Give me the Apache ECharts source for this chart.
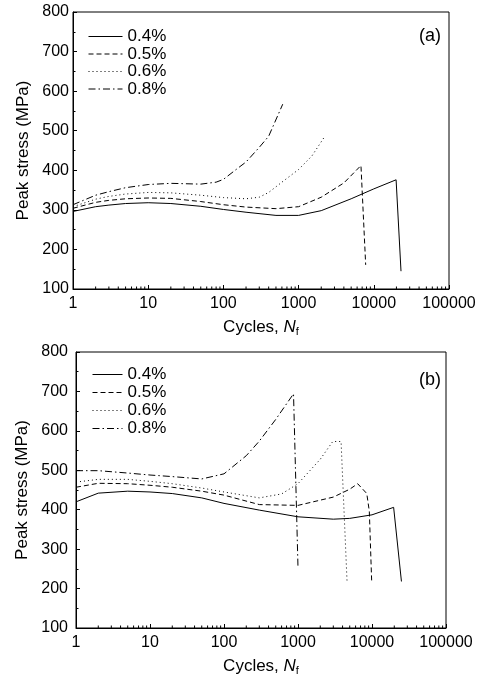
<!DOCTYPE html>
<html>
<head>
<meta charset="utf-8">
<script src="https://cdn.jsdelivr.net/npm/echarts@6/dist/echarts.min.js"></script>
<style>
  html, body { margin: 0; padding: 0; background: #fff; }
  #chart { width: 481px; height: 677px; }
</style>
</head>
<body>
<div id="chart"></div>
<script>
// strain amplitudes (legend)
const strainNames = ['0.4%', '0.5%', '0.6%', '0.8%'];

// panel (a)
const aCycles04 = [1, 2, 3, 5, 10, 20, 50, 100, 200, 500, 1000, 2000, 5000, 10000, 19800, 23000];
const aStress04 = [296, 308, 312, 316, 318, 316, 309, 301, 294, 286, 286, 298, 328, 353, 376, 145];
const aCycles05 = [1, 2, 3, 5, 10, 20, 50, 100, 200, 500, 1000, 2000, 4000, 6750, 7800];
const aStress05 = [304, 319, 324, 328, 330, 329, 321, 313, 307, 303, 308, 332, 368, 412, 161];
const aCycles06 = [1, 2, 3, 5, 10, 20, 50, 100, 200, 300, 400, 600, 1000, 1500, 2200];
const aStress06 = [308, 327, 334, 340, 344, 343, 337, 331, 328, 332, 344, 370, 402, 436, 484];
const aCycles08 = [1, 2, 3, 5, 10, 20, 50, 80, 100, 150, 200, 300, 400, 615];
const aStress08 = [313, 337, 346, 356, 364, 367, 365, 370, 377, 403, 421, 458, 486, 567];

// panel (b)
const bCycles04 = [1, 2, 5, 10, 20, 50, 100, 300, 1000, 3000, 5000, 10000, 19600, 25000];
const bStress04 = [420, 442, 447, 445, 441, 430, 416, 399, 382, 376, 378, 387, 406, 218];
const bCycles05 = [1, 2, 5, 10, 20, 50, 100, 300, 1000, 3000, 5000, 6400, 8500, 9200, 9900];
const bStress05 = [457, 467, 466, 462, 457, 447, 437, 413, 411, 432, 452, 466, 441, 396, 218];
const bCycles06 = [1, 2, 5, 10, 20, 50, 100, 300, 600, 1000, 2000, 2950, 3820, 4600];
const bStress06 = [470, 477, 477, 472, 466, 455, 445, 430, 440, 466, 528, 573, 573, 218];
const bCycles08 = [1, 2, 5, 10, 20, 50, 100, 200, 300, 500, 870, 1000];
const bStress08 = [499, 499, 493, 488, 484, 478, 491, 537, 574, 629, 694, 253];

// log minor tick positions (2..9 of each decade)
const minorTickValues = [];
[1, 10, 100, 1000, 10000].forEach(d => {
    for (let k = 2; k <= 9; k++) minorTickValues.push(d * k);
});

const FONT = '"Liberation Sans", Arial, sans-serif';
const dashTypes = ['solid', [5, 3], [1, 3], [7, 3, 1.5, 3]];

const zip = (xs, ys) => xs.map((x, i) => [x, ys[i]]);

const chart = echarts.init(document.getElementById('chart'));

const makeX = (idx) => ({
    type: 'log',
    logBase: 10,
    gridIndex: idx,
    min: 1,
    max: 100000,
    name: '{t|Cycles, }{i|N}{s|f}',
    nameLocation: 'middle',
    nameGap: 29,
    nameTextStyle: {
        rich: {
            t: { fontSize: 17, fontFamily: FONT, color: '#000' },
            i: { fontSize: 17, fontFamily: FONT, fontStyle: 'italic', color: '#000' },
            s: { fontSize: 11, fontFamily: FONT, color: '#000', padding: [8, 0, 0, 0] }
        }
    },
    axisLine: { lineStyle: { color: '#000', width: 1 } },
    axisTick: { inside: true, length: 4, lineStyle: { color: '#000' } },
    axisLabel: {
        color: '#000', fontSize: 16, fontFamily: FONT, margin: 7,
        formatter: v => String(Math.round(v))
    },
    splitLine: { show: false }
});

const makeY = (idx) => ({
    type: 'value',
    gridIndex: idx,
    min: 100,
    max: 800,
    interval: 100,
    name: 'Peak stress (MPa)',
    nameLocation: 'middle',
    nameGap: idx === 0 ? 41 : 44,
    nameTextStyle: { fontSize: 17, fontFamily: FONT, color: '#000' },
    axisLine: { show: true, lineStyle: { color: '#000', width: 1 } },
    axisTick: { inside: true, length: 4, lineStyle: { color: '#000' } },
    minorTick: { show: true, splitNumber: 2, length: 2.5, lineStyle: { color: '#000' } },
    axisLabel: { color: '#000', fontSize: 16, fontFamily: FONT, margin: idx === 0 ? 4 : 8 },
    splitLine: { show: false }
});

const lineSeries = (idx, xs, ys, k) => ({
    name: strainNames[k],
    type: 'line',
    xAxisIndex: idx,
    yAxisIndex: idx,
    data: zip(xs, ys),
    symbol: 'none',
    smooth: false,
    lineStyle: { color: '#000', width: 1, type: dashTypes[k] },
    itemStyle: { color: '#000' },
    animation: false
});

// minor ticks on the log axis, drawn through the axis scale
const minorTicks = (idx) => ({
    type: 'custom',
    xAxisIndex: idx,
    yAxisIndex: idx,
    silent: true,
    animation: false,
    data: minorTickValues.map(v => [v, 100]),
    renderItem: (params, api) => {
        const p = api.coord([api.value(0), api.value(1)]);
        return {
            type: 'line',
            shape: { x1: p[0], y1: p[1], x2: p[0], y2: p[1] - 2.5 },
            style: { stroke: '#000', lineWidth: 1 }
        };
    }
});

const legendCommon = {
    orient: 'vertical',
    data: strainNames,
    itemWidth: 34,
    itemHeight: 11,
    itemGap: 0.5,
    selectedMode: false,
    itemStyle: { opacity: 0 },
    lineStyle: { width: 1 },
    textStyle: { fontSize: 17, fontFamily: FONT, color: '#000', lineHeight: 17 }
};

const titleStyle = { fontSize: 18, fontWeight: 'normal', fontFamily: FONT, color: '#000' };

const option = {
    backgroundColor: '#fff',
    animation: false,
    grid: [
        { left: 73, right: 32, top: 12, height: 277, show: true, borderColor: '#000', borderWidth: 1 },
        { left: 76, right: 35, top: 352, height: 279, show: true, borderColor: '#000', borderWidth: 1 }
    ],
    title: [
        { text: '(a)', left: 414, top: 22, textStyle: titleStyle },
        { text: '(b)', left: 414, top: 366, textStyle: titleStyle }
    ],
    legend: [
        Object.assign({}, legendCommon, { left: 83, top: 23 }),
        Object.assign({}, legendCommon, { left: 87, top: 361, itemWidth: 30, itemGap: 1 })
    ],
    xAxis: [makeX(0), makeX(1)],
    yAxis: [makeY(0), makeY(1)],
    series: [
        lineSeries(0, aCycles04, aStress04, 0),
        lineSeries(0, aCycles05, aStress05, 1),
        lineSeries(0, aCycles06, aStress06, 2),
        lineSeries(0, aCycles08, aStress08, 3),
        lineSeries(1, bCycles04, bStress04, 0),
        lineSeries(1, bCycles05, bStress05, 1),
        lineSeries(1, bCycles06, bStress06, 2),
        lineSeries(1, bCycles08, bStress08, 3),
        minorTicks(0),
        minorTicks(1)
    ]
};

chart.setOption(option);
</script>
</body>
</html>
